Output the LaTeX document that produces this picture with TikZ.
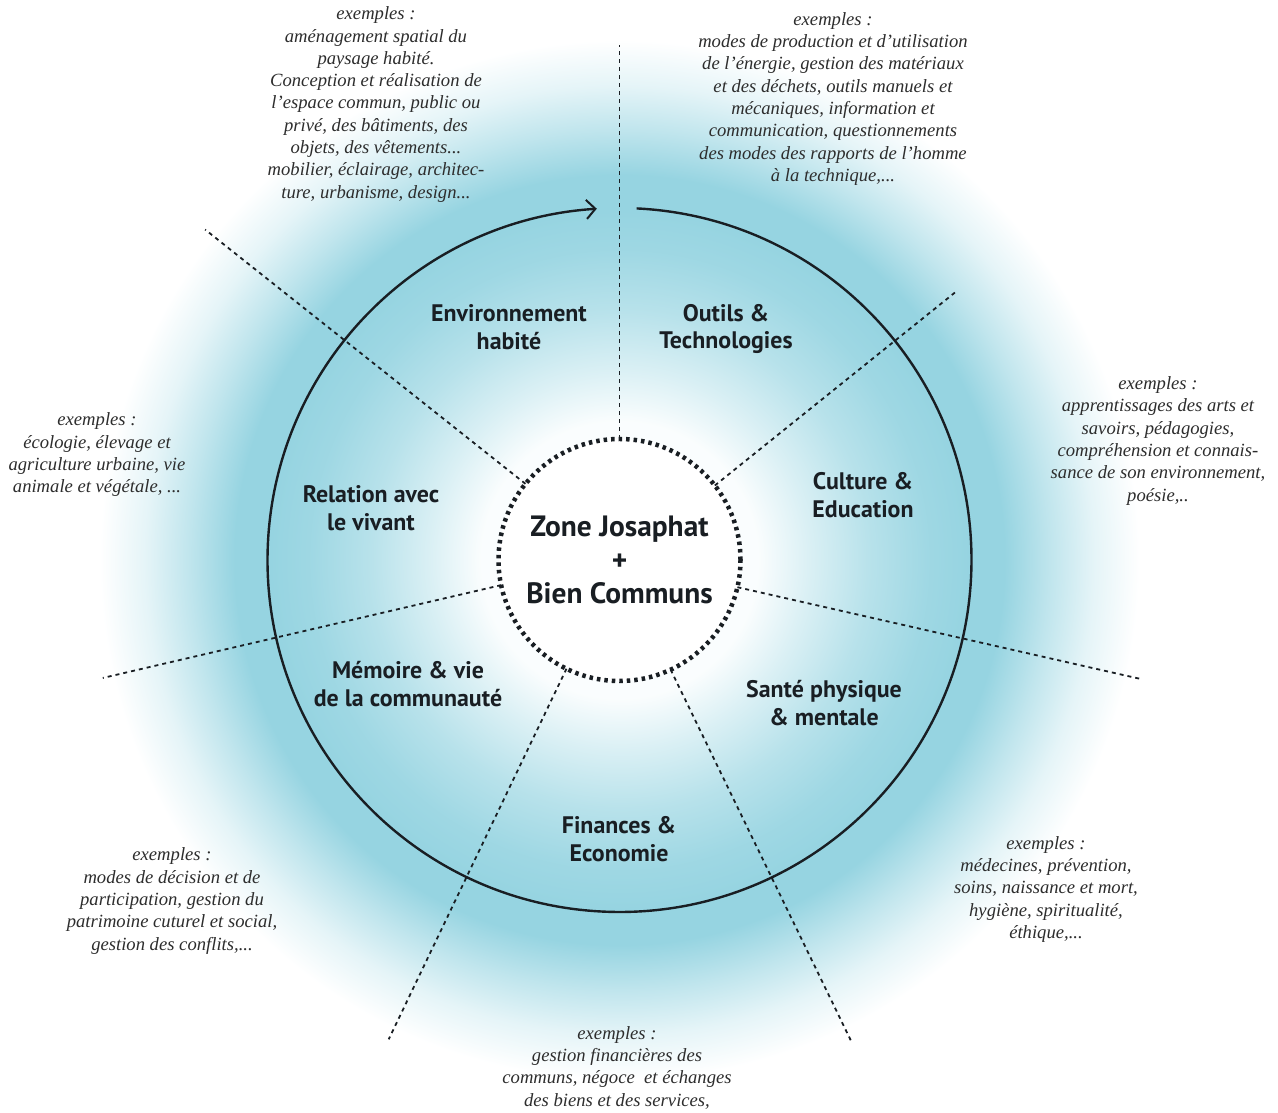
\documentclass[tikz,border=0pt]{standalone}
\usepackage{fontspec}
\setmainfont{Liberation Serif}
\newfontfamily\labelfont{PT Sans}
\usetikzlibrary{arrows.meta,calc}
\definecolor{glow}{RGB}{150,212,225}
\definecolor{txt}{RGB}{45,45,45}
\definecolor{ink}{RGB}{25,30,35}
\pgfdeclareradialshading{ring}{\pgfpoint{0bp}{0bp}}{color(0bp)=(white); color(6.7bp)=(glow!5); color(9.1bp)=(glow!35); color(12bp)=(glow!68); color(14.9bp)=(glow!92); color(16.8bp)=(glow); color(18.5bp)=(glow); color(20.7bp)=(glow!60); color(22.8bp)=(glow!25); color(25bp)=(white); color(50bp)=(white)}
\tikzset{
 ex/.style={font=\fontsize{18.7}{22.4}\selectfont\itshape, text=txt, align=center, inner sep=0pt},
 lab/.style={font=\labelfont\bfseries\fontsize{24}{28}\selectfont, text=ink, align=center, inner sep=0pt},
 ray/.style={draw=ink, line width=1.8bp, dash pattern=on 4bp off 4bp},
 rim/.style={draw=ink, line width=2.4bp},
 hub/.style={circle, draw=ink, line width=4.5bp, dash pattern=on 3.5bp off 4bp, fill=white, minimum size=242bp, inner sep=0pt, outer sep=0pt, align=center, font=\labelfont\bfseries\fontsize{29.5}{34}\selectfont, text=ink}
}
\begin{document}
\begin{tikzpicture}[x=1bp,y=1bp]
\fill[white] (0,0) rectangle (1278,1113);
\useasboundingbox (0,0) rectangle (1278,1113);
\coordinate (C) at (619.5,553);
% glow
\shade[shading=ring] (C) circle[radius=520];
% big circle with arrow
\draw[rim, -{Straight Barb[length=9bp,width=19bp,line width=2bp]}] (C) ++(87.2:352) arc[start angle=87.2, end angle=-266.3, radius=352];
% hub
\node[hub] (hub) at (C) {Zone Josaphat\\+\\Bien Communs};
% ray ends
\coordinate (e1) at ($(C)+(90:515)$);
\coordinate (e2) at ($(C)+(141.43:530)$);
\coordinate (e3) at ($(C)+(192.86:530)$);
\coordinate (e4) at ($(C)+(244.29:532)$);
\coordinate (e5) at ($(C)+(295.71:533)$);
\coordinate (e6) at ($(C)+(347.14:533)$);
\coordinate (e7) at ($(C)+(38.57:432)$);
\draw[ray] (hub.90) -- (e1);
\draw[ray] (hub.141.43) -- (e2);
\draw[ray] (hub.192.86) -- (e3);
\draw[ray] (hub.244.29) -- (e4);
\draw[ray] (hub.295.71) -- (e5);
\draw[ray] (hub.347.14) -- (e6);
\draw[ray] (hub.38.57) -- (e7);
% sector labels
\node[lab] (envh) at (509,785.5) {Environnement\\habité};
\node[lab] (outi) at (726,784) {Outils \&\\Technologies};
\node[lab] (cult) at (863,617.5) {Culture \&\\Education};
\node[lab] (rela) at (371,605) {Relation avec\\le vivant};
\node[lab] (memo) at (408,428.5) {Mémoire \& vie\\de la communauté};
\node[lab] (sant) at (824,409.5) {Santé physique\\\& mentale};
\node[lab] (fina) at (619,274) {Finances \&\\Economie};
% examples
\node[ex] (x1) at (376,1008.5) {exemples :\\aménagement spatial du\\paysage habité.\\Conception et réalisation de\\l'espace commun, public ou\\privé, des bâtiments, des\\objets, des vêtements...\\mobilier, éclairage, architec-\\ture, urbanisme, design...};
\node[ex] (x2) at (833,1014) {exemples :\\modes de production et d'utilisation\\de l'énergie, gestion des matériaux\\et des déchets, outils manuels et\\mécaniques, information et\\communication, questionnements\\des modes des rapports de l'homme\\à la technique,...};
\node[ex] (x3) at (1158,672) {exemples :\\apprentissages des arts et\\savoirs, pédagogies,\\compréhension et connais-\\sance de son environnement,\\poésie,..};
\node[ex] (x4) at (97,658) {exemples :\\écologie, élevage et\\agriculture urbaine, vie\\animale et végétale, ...};
\node[ex] (x5) at (172,212) {exemples :\\modes de décision et de\\participation, gestion du\\patrimoine cuturel et social,\\gestion des conflits,...};
\node[ex] (x6) at (617,45.5) {exemples :\\gestion financières des\\communs, négoce~ et échanges\\des biens et des services,};
\node[ex] (x7) at (1046,223.5) {exemples :\\médecines, prévention,\\soins, naissance et mort,\\hygiène, spiritualité,\\éthique,...};
\end{tikzpicture}
\end{document}
